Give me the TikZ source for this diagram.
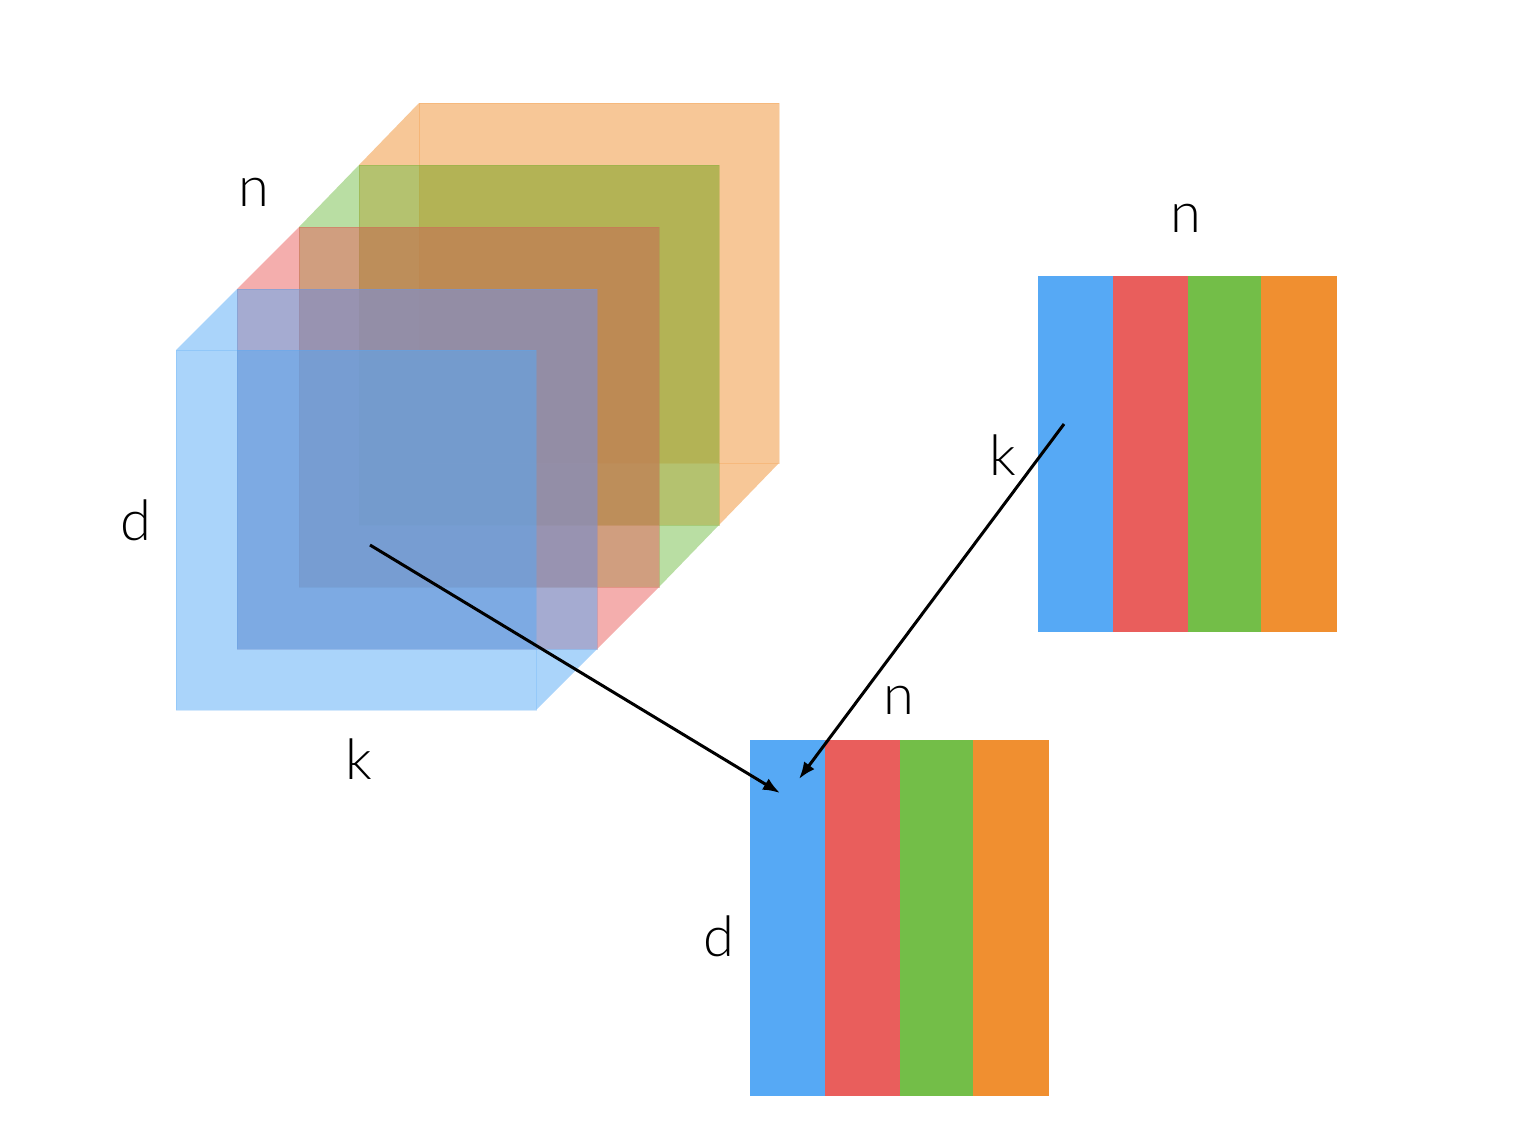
\documentclass[tikz,border=0pt]{standalone}
\usepackage{fontspec}
\setmainfont{Lato}[UprightFont={* Light}]
\usetikzlibrary{arrows.meta}
\definecolor{cblue}{HTML}{56A9F5}
\definecolor{cred}{HTML}{E95E5C}
\definecolor{cgreen}{HTML}{73BE48}
\definecolor{corange}{HTML}{F08F30}
\newcommand\slab[5]{%
  \fill[wedge=#1] (#2,#3) -- (#4,#5) -- (#4,#3) -- cycle;
  \fill[wedge=#1] (#2+360,#3+360) -- (#4+360,#5+360) -- (#2+360,#5+360) -- cycle;
  \filldraw[face=#1] (#4,#5) rectangle ++(360,360);
  \filldraw[face=#1] (#2,#3) rectangle ++(360,360);
}
\begin{document}
\begin{tikzpicture}[x=1pt,y=-1pt,
  face/.style={fill=#1, fill opacity=0.5, draw=#1, draw opacity=0.25, line width=1pt},
  wedge/.style={fill=#1, fill opacity=0.5},
  stripe/.style={fill=#1, inner sep=0pt, outer sep=0pt, minimum width=75.6pt, minimum height=356pt, draw=none},
  lbl/.style={font=\fontsize{56}{60}\selectfont, inner sep=0pt, text=black},
  arr/.style={line width=3pt, -{Latex[length=17pt,width=13pt]}}
]
\useasboundingbox (0,0) rectangle (1518,1140);
% stacked slabs (back to front)
\slab{corange}{359}{165}{419}{103}
\slab{cgreen}{299}{227}{359}{165}
\slab{cred}{237}{289}{299}{227}
\slab{cblue}{176}{350}{237}{289}
% right matrix
\node[stripe=cblue]   (r1) at (1075.8,454) {};
\node[stripe=cred]    (r2) at (1150.5,454) {};
\node[stripe=cgreen]  (r3) at (1225.3,454) {};
\node[stripe=corange] (r4) at (1299.2,454) {};
% bottom matrix
\node[stripe=cblue]   (b1) at (787.8,918) {};
\node[stripe=cred]    (b2) at (862.5,918) {};
\node[stripe=cgreen]  (b3) at (937.3,918) {};
\node[stripe=corange] (b4) at (1011.2,918) {};
% labels
\node[lbl] (nL) at (254,192) {n};
\node[lbl] (dL) at (136,520) {d};
\node[lbl] (kL) at (359,759) {k};
\node[lbl] (nR) at (1186,218) {n};
\node[lbl] (kR) at (1003,455) {k};
\node[lbl] (nB) at (899,700) {n};
\node[lbl] (dB) at (719,936) {d};
% arrows
\coordinate (a1s) at (370,545);
\coordinate (a1e) at (780,793);
\coordinate (a2s) at (1064,424);
\coordinate (a2e) at (799,779);
\draw[arr] (a1s) -- (a1e);
\draw[arr] (a2s) -- (a2e);
\end{tikzpicture}
\end{document}
